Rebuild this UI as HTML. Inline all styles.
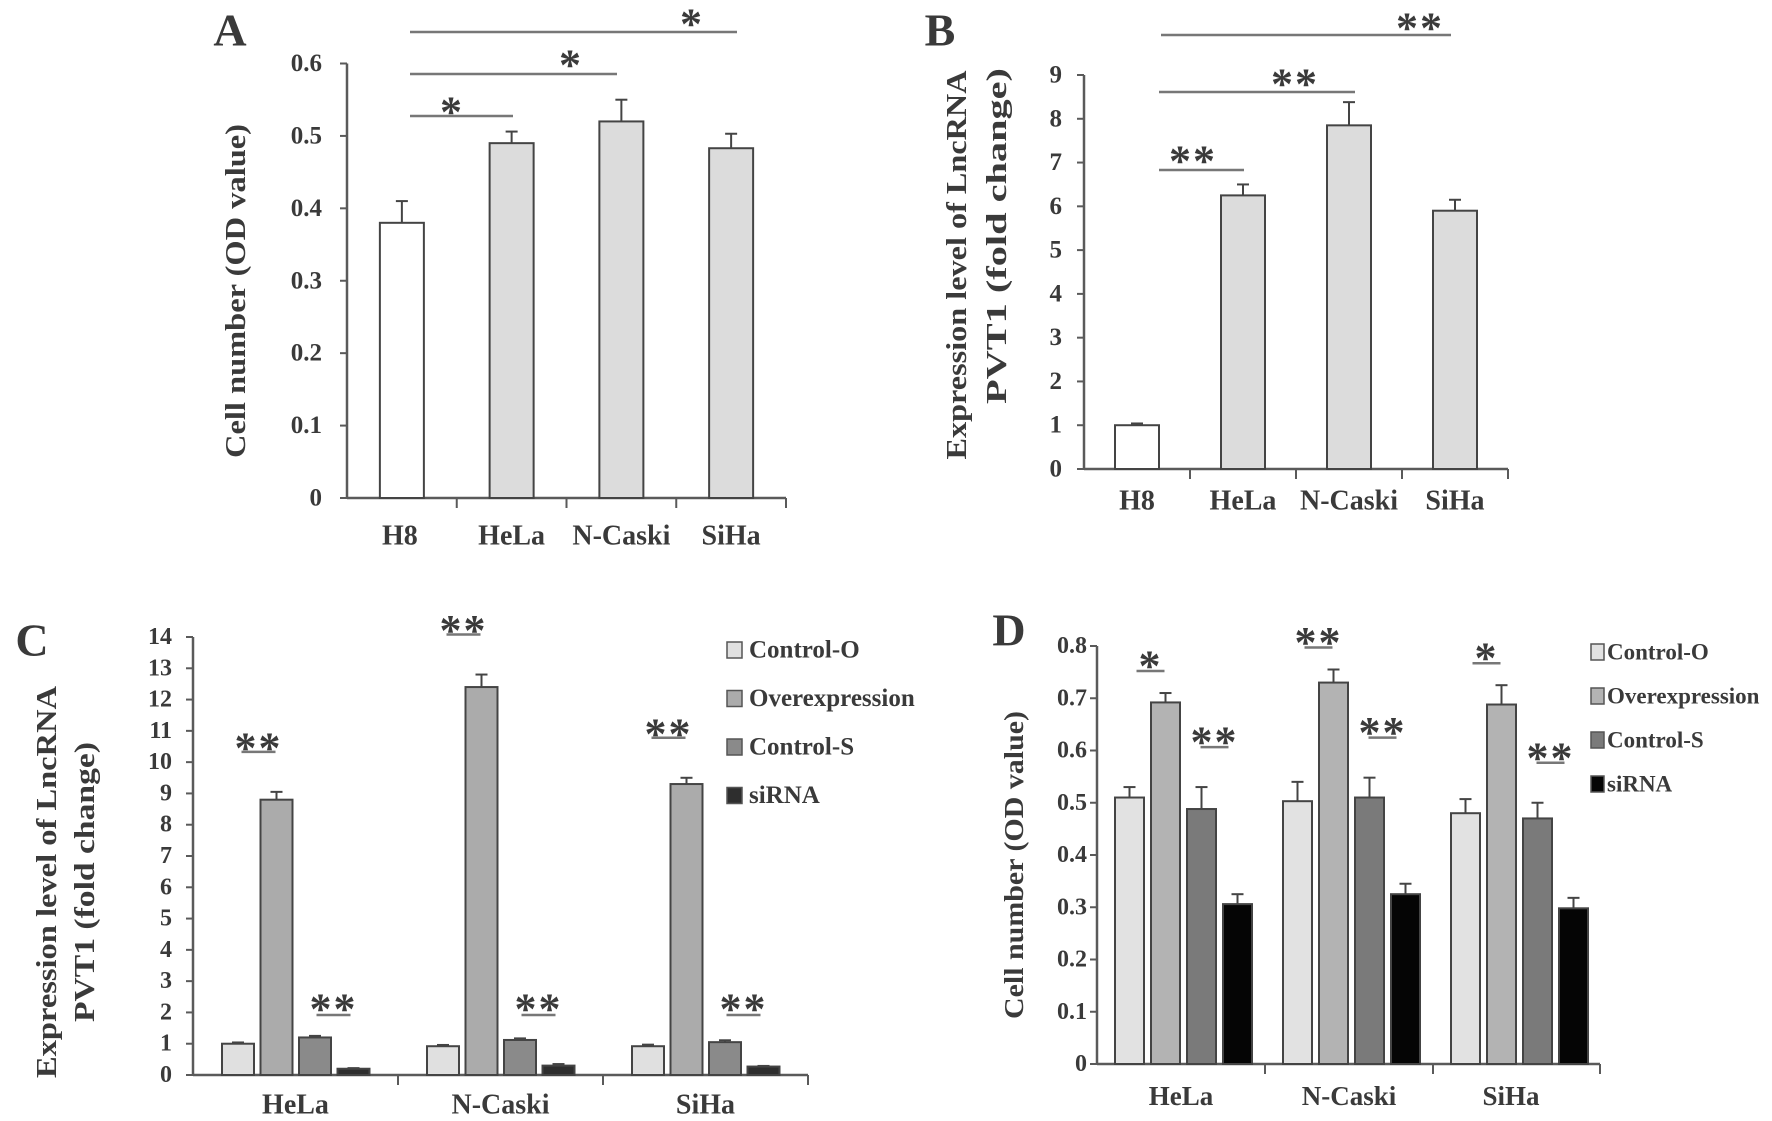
<!DOCTYPE html>
<html><head><meta charset="utf-8"><style>
body{margin:0;background:#fff}
svg{display:block}
text{font-family:"Liberation Serif",serif;font-weight:bold;fill:#3a3a3a}
</style></head><body>
<svg id="s" width="1772" height="1121" viewBox="0 0 1772 1121" xmlns="http://www.w3.org/2000/svg"></svg>
<script>
// ---- Panel A data ----
const catsA = ["H8","HeLa","N-Caski","SiHa"];
const valsA = [0.38,0.49,0.52,0.483];
const errA = [0.03,0.016,0.03,0.02];
const ticksA = ["0","0.1","0.2","0.3","0.4","0.5","0.6"];
// ---- Panel B data ----
const catsB = ["H8","HeLa","N-Caski","SiHa"];
const valsB = [1.0,6.25,7.85,5.9];
const errB = [0.04,0.25,0.53,0.25];
const ticksB = ["0","1","2","3","4","5","6","7","8","9"];
// ---- Panel C data ----
const groupsC = ["HeLa","N-Caski","SiHa"];
const seriesNames = ["Control-O","Overexpression","Control-S","siRNA"];
const ctrlOC = [1.0,0.92,0.92];
const overC = [8.8,12.4,9.3];
const ctrlSC = [1.2,1.12,1.05];
const siC = [0.2,0.3,0.27];
const errCtrlOC = [0.04,0.04,0.05];
const errOverC = [0.25,0.4,0.2];
const errCtrlSC = [0.05,0.05,0.06];
const errSiC = [0.02,0.05,0.02];
const ticksC = ["0","1","2","3","4","5","6","7","8","9","10","11","12","13","14"];
// ---- Panel D data ----
const groupsD = ["HeLa","N-Caski","SiHa"];
const ctrlOD = [0.51,0.503,0.48];
const overD = [0.692,0.73,0.688];
const ctrlSD = [0.488,0.51,0.47];
const siD = [0.306,0.325,0.298];
const errCtrlOD = [0.02,0.037,0.027];
const errOverD = [0.018,0.025,0.037];
const errCtrlSD = [0.042,0.038,0.03];
const errSiD = [0.019,0.02,0.02];
const ticksD = ["0","0.1","0.2","0.3","0.4","0.5","0.6","0.7","0.8"];

const NS="http://www.w3.org/2000/svg";
const svg=document.getElementById('s');
function mk(tag,attrs,parent){const e=document.createElementNS(NS,tag);for(const k in attrs)e.setAttribute(k,attrs[k]);(parent||svg).appendChild(e);return e;}
function txt(x,y,s,size,anchor,parent,extra){const t=mk('text',Object.assign({x:x,y:y,'font-size':size,'text-anchor':anchor||'middle','dominant-baseline':'central'},extra||{}),parent);t.textContent=s;return t;}
const AX='#5a5a5a';

function axes(g,x0,x1,yBase,yTop,ticks,tmax,catTicks,tickFont,labRight){
  const ys=v=>yBase-(v/tmax)*(yBase-yTop);
  const ya=mk('line',{x1:x0,y1:yBase,x2:x0,y2:yTop,stroke:AX,'stroke-width':2.5},g);
  
  
  const xa=mk('line',{x1:x0,y1:yBase,x2:x1,y2:yBase,stroke:AX,'stroke-width':2.5},g);
  
  
  ticks.forEach((t,i)=>{const v=parseFloat(t);const y=ys(v);
    mk('line',{x1:x0-7,y1:y,x2:x0,y2:y,stroke:AX,'stroke-width':2},g);
    const tl=txt(labRight,y,t,tickFont,'end',g);
    
    
  });
  catTicks.forEach(x=>mk('line',{x1:x,y1:yBase,x2:x,y2:yBase+10,stroke:AX,'stroke-width':2},g));
  return ys;
}
function bar(g,x,w,ys,v,e,fill,name){
  const yv=ys(v),ye=ys(v+e),cx=x+w/2;
  mk('line',{x1:cx,y1:yv,x2:cx,y2:ye,stroke:'#444','stroke-width':2},g);
  mk('line',{x1:cx-6,y1:ye,x2:cx+6,y2:ye,stroke:'#444','stroke-width':2},g);
  const r=mk('rect',{x:x,y:yv,width:w,height:ys(0)-yv,fill:fill,stroke:'#444','stroke-width':2},g);
  
  
}
function stars(g,cx,y,n,w,lineY){
  const s=txt(cx,y+8,n===2?'**':'*',44,'middle',g,{'font-family':'"Liberation Sans",sans-serif','font-weight':'normal','letter-spacing':'2'});
  
  
  if(w) mk('line',{x1:cx-w/2,y1:lineY,x2:cx+w/2,y2:lineY,stroke:'#777','stroke-width':2.5},g);
}
function sigLine(g,xa,xb,y,sx,sy,n){
  mk('line',{x1:xa,y1:y,x2:xb,y2:y,stroke:'#777','stroke-width':2.5},g);
  const s=txt(sx,sy+8,n===2?'**':'*',44,'middle',g,{'font-family':'"Liberation Sans",sans-serif','font-weight':'normal','letter-spacing':'2'});
  
  
}

// ===== Panel A =====
(function(){
  const g=mk('g',{});
  const x0=347,x1=786,cw=(x1-x0)/4;
  const ys=axes(g,x0,x1,498,63.5,ticksA,0.6,[x0+cw,x0+2*cw,x0+3*cw,x1],25,322);
  catsA.forEach((c,i)=>{const cx=x0+cw*(i+0.5);
    bar(g,cx-22,44,ys,valsA[i],errA[i],i===0?'#fff':'#dcdcdc','bar-'+c.toLowerCase());
    const l=txt(cx+(i===0?-2:0),536,c,28,'middle',g);});
  sigLine(g,410,513,116,452,104,1);
  sigLine(g,410,617,74,571,57,1);
  sigLine(g,410,737,32,692,16,1);
  const t=txt(230,30,'A',46,'middle',g,{fill:'#111'});
  const yt=txt(0,0,'Cell number (OD value)',29,'middle',g,{transform:'translate(236,291) rotate(-90)',textLength:334,lengthAdjust:'spacingAndGlyphs'});
  
})();

// ===== Panel B =====
(function(){
  const g=mk('g',{});
  const x0=1084,x1=1508,cw=(x1-x0)/4;
  const ys=axes(g,x0,x1,469,75,ticksB,9,[x0+cw,x0+2*cw,x0+3*cw,x1],25,1062);
  catsB.forEach((c,i)=>{const cx=x0+cw*(i+0.5);
    bar(g,cx-22,44,ys,valsB[i],errB[i],i===0?'#fff':'#dcdcdc','bar-'+c.toLowerCase());
    const l=txt(cx,501,c,28,'middle',g);});
  sigLine(g,1159,1244,170,1193,153,2);
  sigLine(g,1159,1355,92,1295,76,2);
  sigLine(g,1161,1451,35,1420,20,2);
  const t=txt(940,30,'B',46,'middle',g,{fill:'#111'});
  const y1=txt(0,0,'Expression level of LncRNA',29,'middle',g,{transform:'translate(957,265) rotate(-90)',textLength:389,lengthAdjust:'spacingAndGlyphs'});
  
  const y2=txt(0,0,'PVT1  (fold change)',29,'middle',g,{transform:'translate(997,236) rotate(-90)',textLength:336,lengthAdjust:'spacingAndGlyphs'});
  
})();

// ===== Panel C =====
(function(){
  const g=mk('g',{});
  const x0=193,x1=808,gw=(x1-x0)/3;
  const ys=axes(g,x0,x1,1075,637,ticksC,14,[x0+gw,x0+2*gw,x1],24,172);
  const series=[ctrlOC,overC,ctrlSC,siC],errs=[errCtrlOC,errOverC,errCtrlSC,errSiC];
  const fills=['#e0e0e0','#ababab','#8a8a8a','#2e2e2e'];
  groupsC.forEach((c,gi)=>{const gs=x0+gw*gi;
    series.forEach((s,si)=>bar(g,gs+29+si*38.5,32,ys,s[gi],errs[si][gi],fills[si],'bar-'+c.toLowerCase()+'-'+si));
    const l=txt(gs+gw/2,1105,c,28,'middle',g);
    const ox=gs+29+1*38.5+16, sx=gs+29+3*38.5+16;
    const yo=ys(overC[gi]+errOverC[gi])-40;
    stars(g,ox-18,yo-12,2,34,yo);
    stars(g,sx-20,1001,2,34,1015);
  });
  seriesNames.forEach((n,i)=>{const y=650+i*48.5;
    const r=mk('rect',{x:727,y:y-8,width:15,height:16,fill:fills[i],stroke:'#555','stroke-width':1.5},g);
    
    const t=txt(749,y,n,25,'start',g);});
  const t=txt(32,640,'C',46,'middle',g,{fill:'#111'});
  const y1=txt(0,0,'Expression level of LncRNA',29,'middle',g,{transform:'translate(47,882) rotate(-90)',textLength:392,lengthAdjust:'spacingAndGlyphs'});
  
  const y2=txt(0,0,'PVT1  (fold change)',29,'middle',g,{transform:'translate(85,882) rotate(-90)',textLength:280,lengthAdjust:'spacingAndGlyphs'});
  
})();

// ===== Panel D =====
(function(){
  const g=mk('g',{});
  const x0=1097,x1=1600,gw=168;
  const ys=axes(g,x0,x1,1064,646,ticksD,0.8,[x0+gw,x0+2*gw,x1],24,1087);
  const series=[ctrlOD,overD,ctrlSD,siD],errs=[errCtrlOD,errOverD,errCtrlSD,errSiD];
  const fills=['#e2e2e2','#b3b3b3','#7a7a7a','#050505'];
  const overStars=[1,2,1];
  groupsD.forEach((c,gi)=>{const gs=x0+gw*gi;
    series.forEach((s,si)=>bar(g,gs+18+si*36,29,ys,s[gi],errs[si][gi],fills[si],'bar-'+c.toLowerCase()+'-'+si));
    const l=txt(gs+gw/2-(gi===2?6:0),1096,c,27,'middle',g);
    const ocx=gs+18+36+14.5, scx=gs+18+108+14.5;
    const yo=ys(overD[gi]+errOverD[gi])-22;
    stars(g,ocx-15,yo-13,overStars[gi],28,yo);
    const ysi=ys(ctrlSD[gi]+errCtrlSD[gi])-40;
    stars(g,scx-23,ysi-13,2,28,ysi);
  });
  seriesNames.forEach((n,i)=>{const y=652+i*44;
    const r=mk('rect',{x:1591,y:y-8,width:13,height:16,fill:fills[i],stroke:'#555','stroke-width':1.5},g);
    
    const t=txt(1607,y,n,23,'start',g);});
  const t=txt(1009,630,'D',46,'middle',g,{fill:'#111'});
  const yt=txt(0,0,'Cell number (OD value)',27,'middle',g,{transform:'translate(1014,865) rotate(-90)',textLength:308,lengthAdjust:'spacingAndGlyphs'});
  
})();
</script>
</body></html>
